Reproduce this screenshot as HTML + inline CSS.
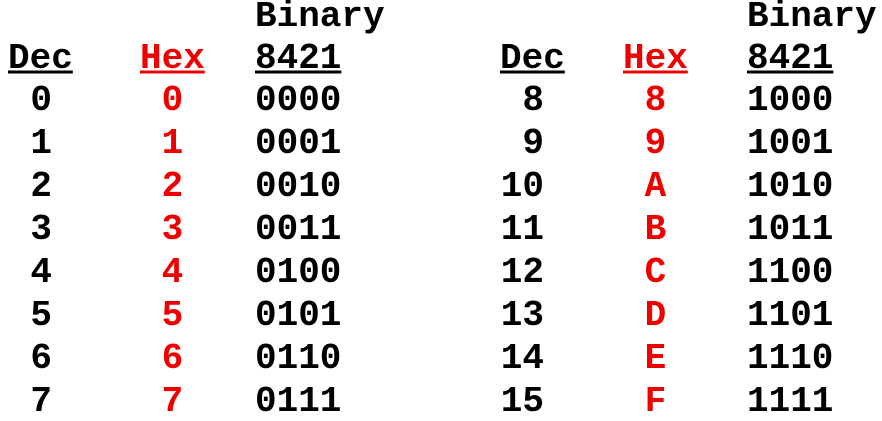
<!DOCTYPE html>
<html><head><meta charset="utf-8"><style>
html,body{margin:0;padding:0;background:#fff;width:882px;height:421px;overflow:hidden}
text{font-family:"Liberation Mono",monospace;font-weight:bold;font-size:36px}
</style></head><body>
<svg id="chart" width="882" height="421" xmlns="http://www.w3.org/2000/svg"></svg>
<script>
const decLeft=["0","1","2","3","4","5","6","7"];
const hexLeft=["0","1","2","3","4","5","6","7"];
const binLeft=["0000","0001","0010","0011","0100","0101","0110","0111"];
const decRight=["8","9","10","11","12","13","14","15"];
const hexRight=["8","9","A","B","C","D","E","F"];
const binRight=["1000","1001","1010","1011","1100","1101","1110","1111"];
const svg=document.getElementById('chart');
const NS='http://www.w3.org/2000/svg';
const CW=21.6;
function t(x,y,s,color,name,anchor){
  const e=document.createElementNS(NS,'text');
  e.setAttribute('x',x);e.setAttribute('y',y);
  e.setAttribute('fill',color);
  if(anchor)e.setAttribute('text-anchor',anchor);
  e.textContent=s;
  
  
  svg.appendChild(e);return e;
}
function u(x,len,color,name){
  const l=document.createElementNS(NS,'line');
  l.setAttribute('x1',x);l.setAttribute('x2',x+len*CW);
  l.setAttribute('y1',72);l.setAttribute('y2',72);
  l.setAttribute('stroke',color);l.setAttribute('stroke-width',3);
  
  
  svg.appendChild(l);
}
function block(x0,xHex,xBin,dec,hex,bin,decEnd,side){
  t(x0,68,"Dec","#000",side+"-dec-header");u(x0,3,"#000",side+"-dec-underline");
  t(xHex,68,"Hex","#e00",side+"-hex-header");u(xHex,3,"#e00",side+"-hex-underline");
  t(xBin,26,"Binary","#000",side+"-binary-header");
  t(xBin,68,"8421","#000",side+"-8421-header");u(xBin,4,"#000",side+"-8421-underline");
  for(let i=0;i<dec.length;i++){
    const y=110+43*i;
    t(decEnd,y,dec[i],"#000",side+"-dec-value","end");
    t(xHex+CW,y,hex[i],"#e00",side+"-hex-value");
    t(xBin,y,bin[i],"#000",side+"-binary-value");
  }
}
block(8,140,255,decLeft,hexLeft,binLeft,52,"left");
block(500,623,747,decRight,hexRight,binRight,544,"right");
</script>
</body></html>
